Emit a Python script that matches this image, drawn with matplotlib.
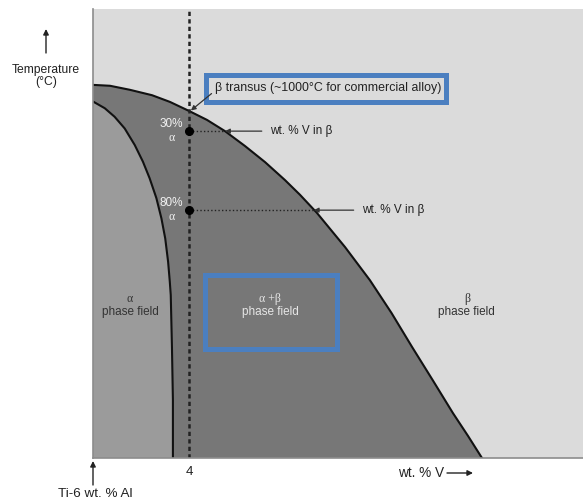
import matplotlib.pyplot as plt
from matplotlib.patches import Rectangle

plt.rcParams['font.family'] = ['Liberation Sans', 'DejaVu Sans']

# beta transus: wt. % V vs relative temperature (no scale given on the figure)
transus_v = [0, 0.71, 1.54, 2.46, 3.21, 4.0, 4.75, 5.5, 6.33, 7.17, 8.0, 8.63, 9.33,
             10.5, 11.54, 12.44, 13.3, 14.15, 15.0, 15.63, 16.21]
transus_t = [83.1, 82.9, 82.0, 80.8, 79.3, 77.3, 75.3, 72.8, 69.5, 65.9, 61.9, 58.6, 54.6,
             47.0, 39.6, 32.3, 24.7, 17.4, 10.0, 4.9, 0]

# alpha / alpha+beta boundary
alpha_v = [0, 0.49, 0.90, 1.32, 1.74, 2.08, 2.36, 2.64, 2.85, 3.01, 3.13, 3.20, 3.24,
           3.29, 3.33, 3.33]
alpha_t = [79.4, 77.9, 76.0, 73.4, 69.7, 66.0, 62.3, 57.9, 53.4, 48.9, 43.7, 39.3, 36.3,
           24.7, 12.9, 0]

alloy_v = 4
tie_t = [72.8, 55.2]
tie_v_beta = [5.5, 9.2]
tie_alpha = ['30%', '80%']
tie_text_v = [7.38, 11.21]

xmax, ymax = 20.42, 100

c_beta = '#dbdbdb'
c_ab = '#777777'
c_alpha = '#9b9b9b'
blue = '#4b7fc0'

fig = plt.figure(figsize=(5.83, 5.01), dpi=100)
ax = fig.add_axes([93 / 583, 43 / 501, 490 / 583, 449 / 501])
ax.set_facecolor(c_beta)
ax.set_xlim(0, xmax)
ax.set_ylim(0, ymax)

ax.fill(transus_v + [0], transus_t + [0], color=c_ab, lw=0)
ax.fill(alpha_v + [0], alpha_t + [0], color=c_alpha, lw=0)
ax.plot(transus_v, transus_t, color='#111111', lw=1.5)
ax.plot(alpha_v, alpha_t, color='#111111', lw=1.5)

ax.axvline(alloy_v, color='#222222', lw=1.8, dashes=(1.7, 1.3))

for t, vb, lab, tv in zip(tie_t, tie_v_beta, tie_alpha, tie_text_v):
    ax.plot([alloy_v, vb], [t, t], color='#222222', lw=1, linestyle=(0, (1, 1.6)))
    ax.plot(alloy_v, t, 'o', color='black', ms=5.5)
    ax.text(alloy_v - 0.72, t + 1.6, lab, ha='center', va='center', color='#f2f2f2', fontsize=8.5)
    ax.text(alloy_v - 0.72, t - 1.6, 'α', ha='center', va='center', color='#f2f2f2',
            fontsize=8.5, family='Liberation Serif')
    ax.annotate('wt. % V in β', xy=(vb, t), xytext=(tv, t), ha='left', va='center', fontsize=8.5,
                color='#222222',
                arrowprops=dict(arrowstyle='-|>', color='#333333', lw=0.9, mutation_scale=7,
                                shrinkA=4, shrinkB=0))

# beta transus label
ax.annotate('β transus (~1000°C for commercial alloy)', xy=(4.08, 77.4), xytext=(5.1, 82.4),
            ha='left', va='center', fontsize=8.9, color='#222222',
            arrowprops=dict(arrowstyle='-|>', color='#333333', lw=0.9, mutation_scale=7,
                            shrinkA=1, shrinkB=0, relpos=(0, 0.3)))
ax.add_patch(Rectangle((4.69, 79.2), 10.0, 6.2, fill=False, edgecolor=blue, lw=3.6))

# phase field labels
ax.text(1.54, 35.5, 'α', ha='center', va='center', fontsize=8.5, color='#333333', family='Liberation Serif')
ax.text(1.54, 32.5, 'phase field', ha='center', va='center', fontsize=8.5, color='#333333')
ax.text(7.38, 35.5, 'α +β', ha='center', va='center', fontsize=8.5, color='#e6e6e6', family='Liberation Serif')
ax.text(7.38, 32.5, 'phase field', ha='center', va='center', fontsize=8.5, color='#e6e6e6')
ax.text(15.58, 35.5, 'β', ha='center', va='center', fontsize=8.5, color='#333333', family='Liberation Serif')
ax.text(15.58, 32.5, 'phase field', ha='center', va='center', fontsize=8.5, color='#333333')
ax.add_patch(Rectangle((4.67, 24.3), 5.5, 16.5, fill=False, edgecolor=blue, lw=3.6))

for s in ['top', 'right']:
    ax.spines[s].set_visible(False)
for s in ['left', 'bottom']:
    ax.spines[s].set_color('#8c8c8c')
    ax.spines[s].set_linewidth(1.2)
ax.set_yticks([])
ax.set_xticks([alloy_v])
ax.set_xticklabels(['4'])
ax.tick_params(axis='x', length=0, pad=6, labelsize=9.5, labelcolor='#222222')

arrow = dict(arrowstyle='-|>', color='#222222', lw=1, mutation_scale=8, shrinkA=0, shrinkB=0)
fig.text(46 / 583, 1 - 70 / 501, 'Temperature', ha='center', va='center', fontsize=8.7, color='#222222')
fig.text(46 / 583, 1 - 82 / 501, '(°C)', ha='center', va='center', fontsize=8.7, color='#222222')
ax.annotate('', xy=(46 / 583, 1 - 29 / 501), xytext=(46 / 583, 1 - 53 / 501),
            xycoords='figure fraction', textcoords='figure fraction', arrowprops=arrow)

fig.text(95 / 583, 1 - 494 / 501, 'Ti-6 wt. % Al', ha='center', va='center', fontsize=9.7, color='#222222')
ax.annotate('', xy=(93 / 583, 1 - 461 / 501), xytext=(93 / 583, 1 - 485 / 501),
            xycoords='figure fraction', textcoords='figure fraction', arrowprops=arrow)

fig.text(398 / 583, 1 - 473 / 501, 'wt. % V', ha='left', va='center', fontsize=9.8, color='#222222')
ax.annotate('', xy=(473 / 583, 1 - 473 / 501), xytext=(447 / 583, 1 - 473 / 501),
            xycoords='figure fraction', textcoords='figure fraction', arrowprops=arrow)

fig.savefig('out.png', dpi=100, facecolor='white')
